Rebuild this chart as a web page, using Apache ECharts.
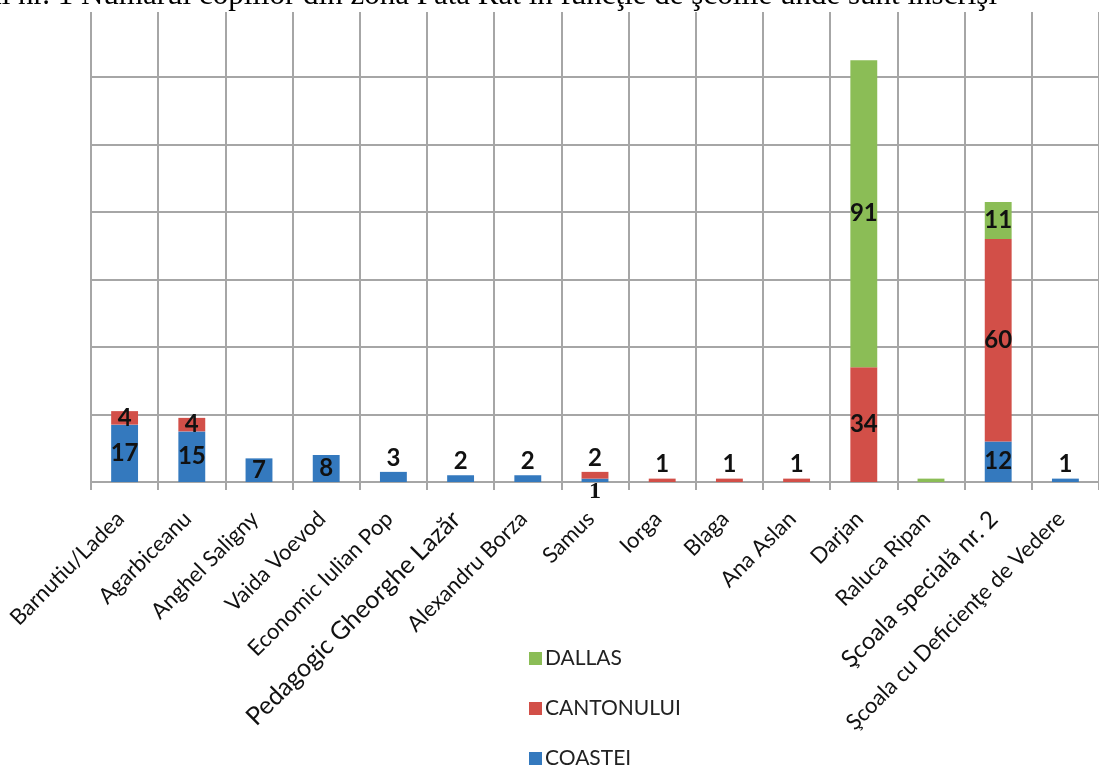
<!DOCTYPE html>
<html>
<head>
<meta charset="utf-8">
<script src="https://cdn.jsdelivr.net/npm/echarts@6/dist/echarts.min.js"></script>
<style>
html,body{margin:0;padding:0;background:#fff;}
#c{width:1099px;height:769px;}
</style>
</head>
<body>
<div id="c"></div>
<script>
const titleText = 'Graficul nr. 1 Numărul copiilor din zona Pata Rât în funcţie de şcolile unde sunt înscrişi';
const categories = ['Barnutiu/Ladea','Agarbiceanu','Anghel Saligny','Vaida Voevod','Economic Iulian Pop','Pedagogic Gheorghe Lazăr','Alexandru Borza','Samus','Iorga','Blaga','Ana Aslan','Darjan','Raluca Ripan','Şcoala specială nr. 2','Şcoala cu Deficienţe de Vedere'];
const coastei    = [17,15,7,8,3,2,2,1,0,0,0,0,0,12,1];
const cantonului = [4,4,0,0,0,0,0,2,1,1,1,34,0,60,0];
const dallas     = [0,0,0,0,0,0,0,0,0,0,0,91,1,11,0];
const yTicks = [0,20,40,60,80,100,120,140];

// label placement (styling only)
const placement = {
  COASTEI: {4:'top',5:'top',6:'top',7:'bottom',14:'top'},
  CANTONULUI: {7:'top',8:'top',9:'top',10:'top'},
  DALLAS: {12:'none'}
};
const labelSizeStyle = {'Pedagogic Gheorghe Lazăr':'p', 'Şcoala specială nr. 2':'s'};

function build(name, arr){
  return arr.map((v,i)=>{
    if(!v) return {value: null};
    const p = (placement[name]||{})[i];
    const item = {value: v};
    if(p==='none') item.label = {show:false};
    else if(p==='top') item.label = {position:'top', distance:2};
    else if(p==='bottom') item.label = {position:'bottom', distance:-2, fontFamily:'Liberation Serif'};
    return item;
  });
}

const colors = {COASTEI:'#3479BE', CANTONULUI:'#D24F48', DALLAS:'#8BBD56'};
const labelStyle = {show:true, position:'inside', color:'#111', fontFamily:'Lato', fontWeight:'bold', fontSize:24};

function series(name, arr){
  return {
    name, type:'bar', stack:'t', barWidth:'40%',
    itemStyle:{color:colors[name]},
    label: Object.assign({}, labelStyle),
    data: build(name, arr)
  };
}

const chart = echarts.init(document.getElementById('c'), null, {renderer:'canvas'});
chart.setOption({
  backgroundColor:'#fff',
  animation:false,
  grid:{left:91, top:9.5, width:1023, height:472.5, containLabel:false},
  legend:{
    orient:'vertical', left:524, top:643, height:200,
    data:['DALLAS','CANTONULUI','COASTEI'],
    itemWidth:13, itemHeight:13, itemGap:29,
    icon:'rect',
    textStyle:{fontFamily:'Lato', fontSize:21, color:'#222', padding:[0,0,0,-2]}
  },
  xAxis:{
    type:'category', data:categories,
    axisLine:{lineStyle:{color:'#a6a6a6', width:2}},
    axisTick:{show:true, length:8, lineStyle:{color:'#a6a6a6', width:2}},
    splitLine:{show:true, lineStyle:{color:'#a6a6a6', width:2}},
    axisLabel:{
      interval:0, rotate:45, margin:29, padding:[0,6,0,0], color:'#111', fontFamily:'Lato', fontSize:22,
      formatter: v => labelSizeStyle[v] ? '{'+labelSizeStyle[v]+'|'+v+'}' : v,
      rich:{
        p:{fontFamily:'Lato', fontSize:25, color:'#111'},
        s:{fontFamily:'Lato', fontSize:24, color:'#111'}
      }
    }
  },
  yAxis:{
    type:'value', min:yTicks[0], max:yTicks[yTicks.length-1], interval:yTicks[1]-yTicks[0],
    axisLabel:{show:false}, axisTick:{show:false},
    axisLine:{show:false},
    splitLine:{show:true, lineStyle:{color:'#a6a6a6', width:2}}
  },
  graphic:[
    {type:'rect', left:0, top:0, z:100, shape:{width:1099, height:12}, style:{fill:'#fff'}},
    {type:'text', z:110, zlevel:0, x:997, y:-4, style:{text:titleText, align:'right', verticalAlign:'middle', font:'31px "Liberation Serif"', fill:'#000'}}
  ],
  series:[series('COASTEI',coastei), series('CANTONULUI',cantonului), series('DALLAS',dallas)]
});
</script>
</body>
</html>
